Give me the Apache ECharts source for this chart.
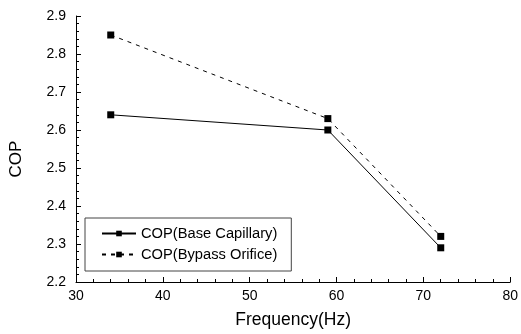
<!DOCTYPE html>
<html>
<head>
<meta charset="utf-8">
<script src="https://cdn.jsdelivr.net/npm/echarts@6/dist/echarts.min.js"></script>
<style>
html, body { margin: 0; padding: 0; background: #fff; }
#chart { width: 521px; height: 334px; }
</style>
</head>
<body>
<div id="chart"></div>
<script>
var freq = [34, 59, 72];
var copBase = [2.64, 2.60, 2.29];
var copBypass = [2.85, 2.63, 2.32];
var xTicks = [30, 40, 50, 60, 70, 80];
var yTicks = [2.2, 2.3, 2.4, 2.5, 2.6, 2.7, 2.8, 2.9];

function pairs(xs, ys) {
	var out = [];
	for (var i = 0; i < xs.length; i++) {
		out.push([xs[i], ys[i]]);
	}
	return out;
}

var font = 'Liberation Sans, Arial, sans-serif';
var chart = echarts.init(document.getElementById('chart'));

chart.setOption({
	animation: false,
	textStyle: { fontFamily: font },
	grid: { left: 75, right: 6, top: 16, bottom: 51 },
	legend: {
		left: 85,
		top: 218,
		orient: 'vertical',
		itemWidth: 34,
		itemHeight: 7,
		itemGap: 6,
		padding: [8, 14, 9, 16],
		borderColor: '#444',
		borderWidth: 1,
		textStyle: { fontFamily: font, fontSize: 14.7, lineHeight: 14, color: '#000' },
		data: ['COP(Base Capillary)', 'COP(Bypass Orifice)']
	},
	xAxis: {
		type: 'value',
		min: xTicks[0],
		max: xTicks[xTicks.length - 1],
		interval: 10,
		name: 'Frequency(Hz)',
		nameLocation: 'middle',
		nameGap: 29,
		nameTextStyle: { fontSize: 17.5, color: '#000' },
		axisLine: { lineStyle: { color: '#000', width: 1 } },
		axisTick: { inside: true, length: 5, lineStyle: { color: '#000' } },
		minorTick: { show: true, splitNumber: 5, length: 3, lineStyle: { color: '#000' } },
		axisLabel: { fontSize: 14, color: '#000', margin: 7 },
		splitLine: { show: false }
	},
	yAxis: {
		type: 'value',
		min: yTicks[0],
		max: yTicks[yTicks.length - 1],
		interval: 0.1,
		name: 'COP',
		nameLocation: 'middle',
		nameGap: 51,
		nameTextStyle: { fontSize: 17, color: '#000', padding: [0, 20, 0, 0] },
		axisLine: { show: true, lineStyle: { color: '#000', width: 1 } },
		axisTick: { show: true, inside: true, length: 5, lineStyle: { color: '#000' } },
		minorTick: { show: true, splitNumber: 5, length: 3, lineStyle: { color: '#000' } },
		axisLabel: {
			fontSize: 14,
			color: '#000',
			margin: 10,
			formatter: function(v) { return v.toFixed(1); }
		},
		splitLine: { show: false }
	},
	series: [{
		name: 'COP(Base Capillary)',
		type: 'line',
		symbol: 'rect',
		symbolSize: 7,
		color: '#000',
		lineStyle: { color: '#000', width: 1 },
		itemStyle: { color: '#000' },
		data: pairs(freq, copBase)
	}, {
		name: 'COP(Bypass Orifice)',
		type: 'line',
		symbol: 'rect',
		symbolSize: 7,
		color: '#000',
		lineStyle: { color: '#000', width: 1, type: [4, 5] },
		itemStyle: { color: '#000' },
		data: pairs(freq, copBypass)
	}]
});
</script>
</body>
</html>
